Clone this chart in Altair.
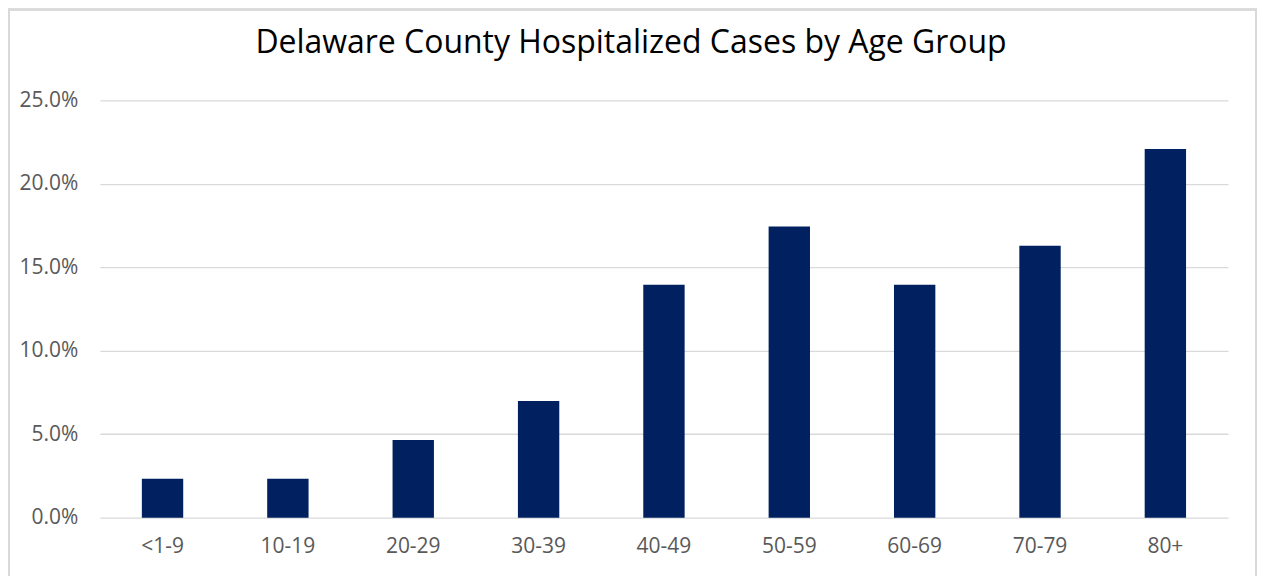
import altair as alt
import pandas as pd

age_groups = ["<1-9", "10-19", "20-29", "30-39", "40-49", "50-59", "60-69", "70-79", "80+"]
share = [0.0233, 0.0233, 0.0465, 0.0698, 0.1395, 0.1744, 0.1395, 0.1628, 0.2209]
y_ticks = [0.0, 0.05, 0.10, 0.15, 0.20, 0.25]

df = pd.DataFrame({"age": age_groups, "share": share})

FONT = "Open Sans"
PW, PH = 1130, 418
PAD = {"left": 92, "top": 92, "right": 29, "bottom": 58}

bars = alt.Chart(df).mark_bar(color="#002060").encode(
    x=alt.X("age:N", sort=age_groups, title=None,
            scale=alt.Scale(paddingInner=0.67, paddingOuter=0.335),
            axis=alt.Axis(labelAngle=0, ticks=False, domain=False, labelPadding=18,
                          labelFontSize=21, labelColor="#595959", labelFont=FONT, grid=False)),
    y=alt.Y("share:Q", title=None,
            scale=alt.Scale(domain=[0, 0.25], nice=False),
            axis=alt.Axis(values=y_ticks, format=".1%", ticks=False, domain=False,
                          labelPadding=22, labelFontSize=21, labelColor="#595959",
                          labelFont=FONT, gridColor="#d9d9d9", gridWidth=1.3)),
)

border = alt.Chart(df).mark_rect(fill=None, stroke="#d9d9d9", strokeWidth=1.5).encode(
    x=alt.value(-PAD["left"] + 1),
    x2=alt.value(PW + PAD["right"] - 1),
    y=alt.value(-PAD["top"] + 1),
    y2=alt.value(PH + PAD["bottom"] + 10),
)

chart = alt.layer(border, bars).properties(
    width=PW, height=PH,
    title=alt.TitleParams("Delaware County Hospitalized Cases by Age Group",
                          fontSize=32, font=FONT, fontWeight="normal", color="#000000",
                          anchor="middle", frame="group", baseline="alphabetic",
                          offset=0, dy=76, dx=-33),
    autosize=alt.AutoSizeParams(type="none"),
    padding=PAD,
).configure_view(stroke=None)

chart.save("out.html", embed_options={"renderer": "svg", "actions": False})
